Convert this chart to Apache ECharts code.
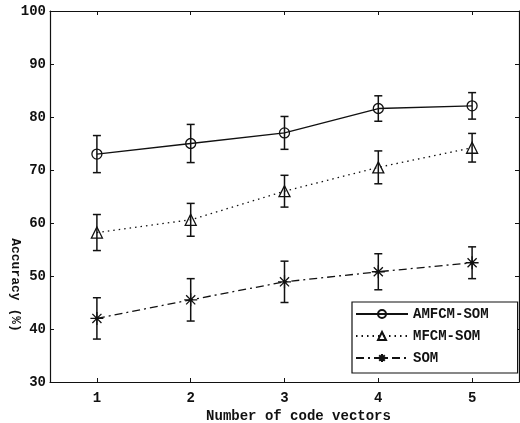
<!DOCTYPE html>
<html>
<head>
<meta charset="utf-8">
<script src="https://cdn.jsdelivr.net/npm/echarts@6/dist/echarts.min.js"></script>
<style>html,body{margin:0;padding:0;background:#fff}#c{width:520px;height:423px}</style>
</head>
<body>
<div id="c"></div>
<script>
// ---- data ----
var categories = ['1', '2', '3', '4', '5'];
var amfcm = [73.0, 75.0, 77.0, 81.6, 82.1];
var amfcmErr = [3.5, 3.6, 3.1, 2.4, 2.5];
var mfcm = [58.2, 60.6, 66.0, 70.5, 74.2];
var mfcmErr = [3.4, 3.1, 3.0, 3.1, 2.7];
var som = [42.0, 45.5, 48.9, 50.8, 52.5];
var somErr = [3.9, 4.0, 3.9, 3.4, 3.0];
var seriesNames = ['AMFCM-SOM', 'MFCM-SOM', 'SOM'];
var xTitle = 'Number of code vectors';
var yTitle = 'Accuracy (%)';

var FONT = '"Liberation Mono", "DejaVu Sans Mono", monospace';
var INK = '#111';

function errData(vals, errs) {
  return vals.map(function (v, i) { return [i, v, errs[i]]; });
}
function errorSeries(vals, errs) {
  return {
    type: 'custom',
    z: 5,
    silent: true,
    data: errData(vals, errs),
    renderItem: function (params, api) {
      var x = api.value(0), y = api.value(1), e = api.value(2);
      var top = api.coord([x, y + e]);
      var bot = api.coord([x, y - e]);
      var cw = 4;
      var st = { stroke: INK, lineWidth: 1.5 };
      return {
        type: 'group',
        children: [
          { type: 'line', shape: { x1: top[0], y1: top[1], x2: bot[0], y2: bot[1] }, style: st },
          { type: 'line', shape: { x1: top[0] - cw, y1: top[1], x2: top[0] + cw, y2: top[1] }, style: st },
          { type: 'line', shape: { x1: bot[0] - cw, y1: bot[1], x2: bot[0] + cw, y2: bot[1] }, style: st }
        ]
      };
    }
  };
}

var chart = echarts.init(document.getElementById('c'), null, { renderer: 'canvas' });
var axisLbl = { fontFamily: FONT, fontWeight: 'bold', fontSize: 14, color: INK };
var tickStyle = { show: true, inside: true, length: 4, lineStyle: { color: INK, width: 1 } };
var lineAx = { show: true, lineStyle: { color: INK, width: 1.2 } };

chart.setOption({
  animation: false,
  backgroundColor: '#fff',
  grid: { left: 50, right: 1, top: 11, bottom: 41, containLabel: false, outerBoundsMode: 'none' },
  xAxis: [
    {
      type: 'category', data: categories, boundaryGap: true, position: 'bottom',
      axisLine: lineAx, axisTick: Object.assign({ alignWithLabel: true }, tickStyle),
      axisLabel: Object.assign({ margin: 9 }, axisLbl),
      splitLine: { show: false },
      name: xTitle, nameLocation: 'middle', nameGap: 25,
      nameTextStyle: { fontFamily: FONT, fontWeight: 'bold', fontSize: 14, color: INK, padding: [0, 0, 0, 28] }
    },
    {
      type: 'category', data: categories, boundaryGap: true, position: 'top',
      axisLine: lineAx, axisTick: Object.assign({ alignWithLabel: true }, tickStyle),
      axisLabel: { show: false }, splitLine: { show: false }
    }
  ],
  yAxis: [
    {
      type: 'value', min: 30, max: 100, interval: 10, position: 'left',
      axisLine: lineAx, axisTick: tickStyle,
      axisLabel: Object.assign({ margin: 4 }, axisLbl),
      splitLine: { show: false }
    },
    {
      type: 'value', min: 30, max: 100, interval: 10, position: 'right',
      axisLine: lineAx, axisTick: tickStyle,
      axisLabel: { show: false }, splitLine: { show: false }
    }
  ],
  legend: {
    data: seriesNames,
    orient: 'vertical',
    left: 352, top: 302,
    padding: [5, 29, 8, 3],
    itemGap: 8, itemWidth: 52, itemHeight: 10,
    backgroundColor: '#fff',
    borderColor: INK, borderWidth: 1.2, borderRadius: 0,
    textStyle: { fontFamily: FONT, fontWeight: 'bold', fontSize: 14, color: INK, lineHeight: 12 }
  },
  graphic: [{
    type: 'text', x: 15, y: 285, rotation: -Math.PI / 2,
    style: {
      text: yTitle, fill: INK, font: 'bold 13px ' + FONT,
      align: 'center', verticalAlign: 'middle', textAlign: 'center', textVerticalAlign: 'middle'
    }
  }],
  series: [
    {
      name: seriesNames[0], type: 'line', data: amfcm, z: 3,
      symbol: 'circle', symbolSize: 10,
      lineStyle: { color: INK, width: 1.3, type: 'solid' },
      itemStyle: { color: 'rgba(255,255,255,0)', borderColor: INK, borderWidth: 1.3 }
    },
    {
      name: seriesNames[1], type: 'line', data: mfcm, z: 3,
      symbol: 'triangle', symbolSize: 11,
      lineStyle: { color: INK, width: 1.3, type: [1.5, 4] },
      itemStyle: { color: 'rgba(255,255,255,0)', borderColor: INK, borderWidth: 1.3 }
    },
    {
      name: seriesNames[2], type: 'line', data: som, z: 3,
      symbol: 'path://M0,-10L0,10M-10,0L10,0M-7,-7L7,7M-7,7L7,-7', symbolSize: 13,
      lineStyle: { color: INK, width: 1.3, type: [8, 4, 2, 4] },
      itemStyle: { color: 'rgba(255,255,255,0)', borderColor: INK, borderWidth: 1.3 }
    },
    errorSeries(amfcm, amfcmErr),
    errorSeries(mfcm, mfcmErr),
    errorSeries(som, somErr)
  ]
});
</script>
</body>
</html>
